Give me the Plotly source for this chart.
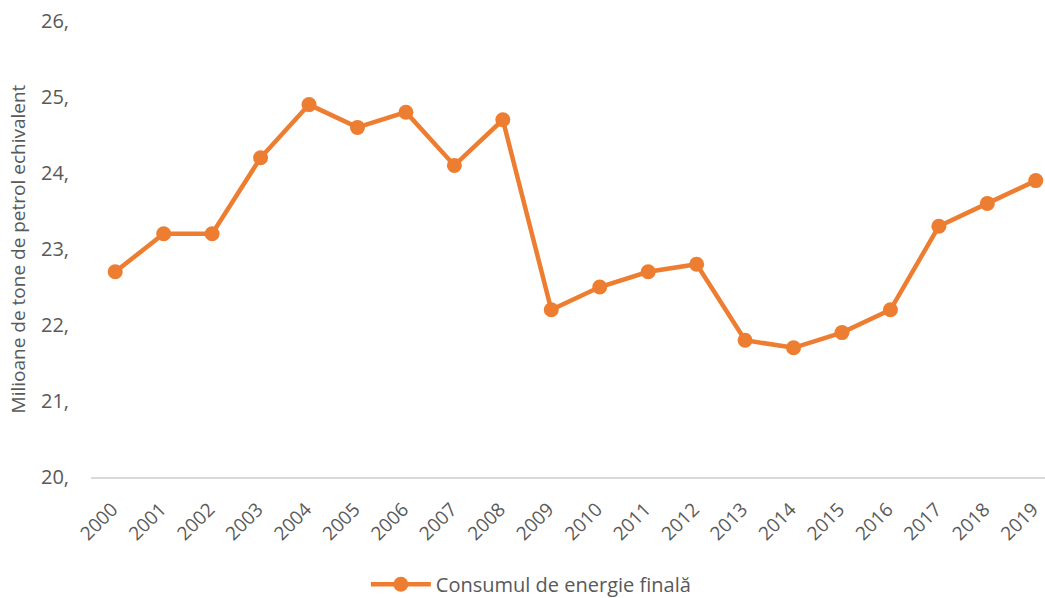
import plotly.graph_objects as go

years = [str(y) for y in range(2000, 2020)]
consum = [22.7, 23.2, 23.2, 24.2, 24.9, 24.6, 24.8, 24.1, 24.7, 22.2,
          22.5, 22.7, 22.8, 21.8, 21.7, 21.9, 22.2, 23.3, 23.6, 23.9]
y_ticks = [20, 21, 22, 23, 24, 25, 26]
y_tick_labels = ["20,", "21,", "22,", "23,", "24,", "25,", "26,"]

ORANGE = "#ED7D31"
GREY_TEXT = "#595959"
FONT = "Open Sans"

fig = go.Figure()
fig.add_trace(go.Scatter(
    x=years, y=consum, mode="lines+markers",
    name="Consumul de energie finală",
    line=dict(color=ORANGE, width=4.5),
    marker=dict(color=ORANGE, size=15),
    cliponaxis=False,
))

fig.update_layout(
    width=1045, height=598,
    margin=dict(l=91, r=0, t=21, b=121, autoexpand=False),
    paper_bgcolor="white", plot_bgcolor="white",
    font=dict(family=FONT, color=GREY_TEXT),
    showlegend=True,
    legend=dict(orientation="h", xref="container", yref="container",
                x=0.508, xanchor="center", y=0.023, yanchor="middle",
                itemwidth=60,
                font=dict(size=20, color=GREY_TEXT, family=FONT)),
    xaxis=dict(type="category", range=[-0.5, 19.19], showgrid=False,
               showline=True, linecolor="#D9D9D9", linewidth=1.5,
               ticks="", tickangle=-45, automargin=False, ticklabelstandoff=12,
               ticklabelshift=-3,
               tickfont=dict(size=19, color=GREY_TEXT)),
    yaxis=dict(range=[20, 26], tickvals=y_ticks, ticktext=y_tick_labels,
               showgrid=False, zeroline=False, showline=False, ticks="",
               automargin=False, ticklabelstandoff=21,
               tickfont=dict(size=20, color=GREY_TEXT),
               title=dict(text="Milioane de tone de petrol echivalent",
                          font=dict(size=19, color=GREY_TEXT), standoff=10)),
)

fig.write_html("out.html")
